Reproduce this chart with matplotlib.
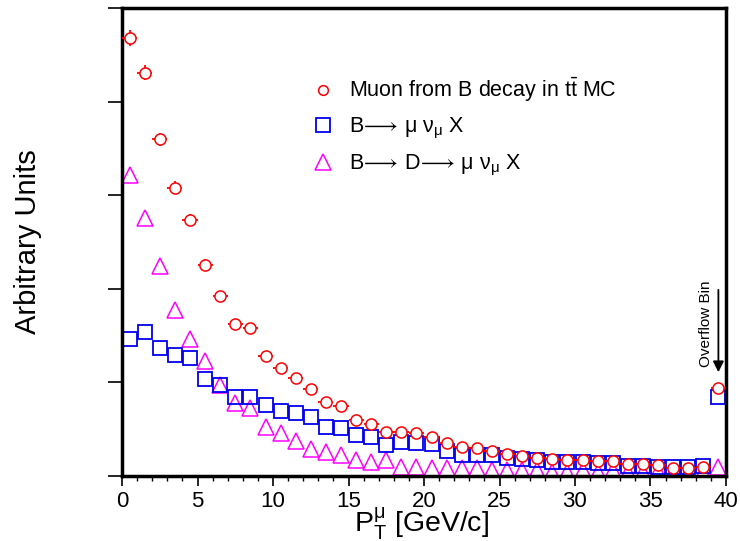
import numpy as np
import matplotlib
matplotlib.use("Agg")
import matplotlib.pyplot as plt
from matplotlib.ticker import MultipleLocator
from matplotlib.lines import Line2D

plt.rcParams["font.family"] = ["Liberation Sans", "DejaVu Sans"]
plt.rcParams["mathtext.fontset"] = "custom"
plt.rcParams["mathtext.rm"] = "Liberation Sans"
plt.rcParams["mathtext.it"] = "Liberation Sans"
plt.rcParams["mathtext.default"] = "regular"
plt.rcParams["mathtext.fallback"] = "stixsans"

# bin centres (1 GeV bins, last one is the overflow bin)
pt = np.arange(0.5, 40, 1.0)

# Muon from B decay in ttbar MC
muon_tt = [4.68, 4.31, 3.60, 3.08, 2.74, 2.26, 1.92, 1.62, 1.58, 1.28,
           1.16, 1.05, 0.93, 0.79, 0.75, 0.60, 0.555, 0.47, 0.47, 0.46,
           0.42, 0.35, 0.31, 0.30, 0.27, 0.24, 0.21, 0.19, 0.18, 0.17,
           0.17, 0.16, 0.16, 0.13, 0.13, 0.12, 0.09, 0.09, 0.10, 0.94]
muon_tt_err = [0.09, 0.08, 0.07, 0.07, 0.06, 0.06, 0.05, 0.05, 0.05, 0.04,
               0.04, 0.04, 0.04, 0.03, 0.03, 0.03, 0.03, 0.03, 0.03, 0.03,
               0.03, 0.02, 0.02, 0.02, 0.02, 0.02, 0.02, 0.02, 0.02, 0.02,
               0.02, 0.02, 0.02, 0.02, 0.02, 0.02, 0.02, 0.02, 0.02, 0.04]

# B -> mu nu X
b_direct = [1.46, 1.54, 1.37, 1.29, 1.26, 1.04, 0.97, 0.85, 0.85, 0.76,
            0.70, 0.67, 0.63, 0.52, 0.51, 0.44, 0.42, 0.33, 0.36, 0.35,
            0.34, 0.27, 0.22, 0.22, 0.22, 0.19, 0.18, 0.17, 0.15, 0.15,
            0.15, 0.14, 0.14, 0.11, 0.11, 0.10, 0.10, 0.10, 0.11, 0.85]

# B -> D -> mu nu X
b_cascade = [3.22, 2.76, 2.24, 1.77, 1.46, 1.23, 0.97, 0.78, 0.73, 0.52,
             0.46, 0.37, 0.29, 0.26, 0.22, 0.17, 0.15, 0.17, 0.10, 0.10,
             0.085, 0.085, 0.09, 0.085, 0.065, 0.065, 0.06, 0.065, 0.045, 0.045,
             0.06, 0.045, 0.07, 0.045, 0.045, 0.05, 0.04, 0.04, 0.04, 0.10]

fig = plt.figure(figsize=(7.4, 5.41), dpi=100)
ax = fig.add_axes([0.165, 0.12, 0.816, 0.865])

ax.plot(pt, b_cascade, linestyle="none", marker="^", markersize=11,
        mfc="none", mec="#ff00ff", mew=1.1)
ax.plot(pt, b_direct, linestyle="none", marker="s", markersize=10,
        mfc="none", mec="#0000ee", mew=1.3)
ax.errorbar(pt, muon_tt, xerr=0.5, yerr=muon_tt_err, linestyle="none",
            marker="o", markersize=8, mfc="white", mec="red", mew=1.1,
            ecolor="red", elinewidth=1.3, capsize=0, zorder=3)

ax.set_xlim(0, 40)
ax.set_ylim(0, 5)
ax.xaxis.set_major_locator(MultipleLocator(5))
ax.xaxis.set_minor_locator(MultipleLocator(1))
ax.yaxis.set_major_locator(MultipleLocator(1))
ax.set_yticklabels([])
ax.tick_params(axis="x", which="major", direction="out", length=7, width=1.2,
               labelsize=16, pad=3.5)
ax.tick_params(axis="x", which="minor", direction="out", length=3.5, width=1)
ax.tick_params(axis="y", which="major", direction="out", length=10, width=1.2)
for s in ax.spines.values():
    s.set_linewidth(2.5)

fig.text(0.57, 0.017, r"$P_{T}^{μ}$ [GeV/c]", fontsize=20.5, ha="center", va="baseline")
ax.set_ylabel("Arbitrary Units", fontsize=21, labelpad=44)

# overflow marker
ax.annotate("", xy=(39.5, 1.08), xytext=(39.5, 2.02),
            arrowprops=dict(arrowstyle="-|>", color="black", lw=1.3, mutation_scale=16))
ax.text(38.7, 1.17, "Overflow Bin", rotation=90, fontsize=11, ha="center", va="bottom")

handles = [
    Line2D([], [], linestyle="none", marker="o", markersize=7, mfc="none", mec="red", mew=1.1),
    Line2D([], [], linestyle="none", marker="s", markersize=10, mfc="none", mec="#0000ee", mew=1.3),
    Line2D([], [], linestyle="none", marker="^", markersize=11, mfc="none", mec="#ff00ff", mew=1.1),
]
labels = [r"Muon from B decay in t$\bar{t}$ MC",
          r"B$\!\longrightarrow\!$ μ ν$_{μ}$ X",
          r"B$\!\longrightarrow\!$ D$\!\longrightarrow\!$ μ ν$_{μ}$ X"]
leg = ax.legend(handles, labels, loc="upper left", bbox_to_anchor=(0.283, 0.896),
                frameon=False, fontsize=15.5, handlelength=1.0, handletextpad=0.7,
                labelspacing=0.55)

plt.savefig("out.png", dpi=100)
plt.close()
